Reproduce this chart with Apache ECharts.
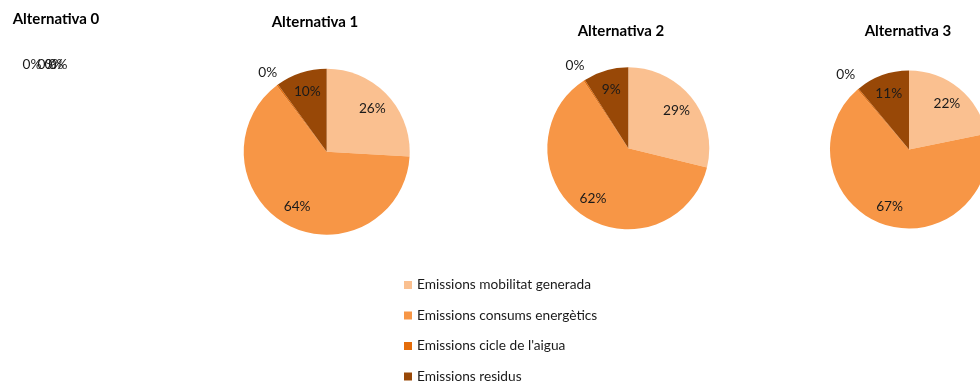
<!DOCTYPE html>
<html>
<head>
<meta charset="utf-8">
<script src="https://cdn.jsdelivr.net/npm/echarts@6/dist/echarts.min.js"></script>
<style>
  html, body { margin: 0; padding: 0; background: #fff; }
  #chart { width: 980px; height: 382px; }
</style>
</head>
<body>
<div id="chart"></div>
<script>
// Emission shares per alternative (percent of total)
const categories = [
  'Emissions mobilitat generada',
  'Emissions consums energètics',
  "Emissions cicle de l'aigua",
  'Emissions residus'
];
const alt0 = [0, 0, 0, 0];
const alt1 = [25.9, 63.8, 0.3, 10.0];
const alt2 = [28.8, 61.9, 0.3, 9.0];
const alt3 = [21.8, 66.9, 0.3, 11.0];
const titles = ['Alternativa 0', 'Alternativa 1', 'Alternativa 2', 'Alternativa 3'];
const colors = ['#FAC090', '#F79646', '#E46C0A', '#984807'];

const FONT = 'Lato, "Open Sans", sans-serif';
const labelStyle = { color: '#1a1a1a', fontSize: 13.7, fontFamily: FONT };

// Layout of each pie: centre and radius in pixels
const pies = [
  { values: alt1, cx: 326.7, cy: 151.7, r: 83, outer: 96 },
  { values: alt2, cx: 628.3, cy: 148.3, r: 81, outer: 95 },
  { values: alt3, cx: 909, cy: 149.5, r: 79, outer: 95 }
];
const titlePos = [[56, 19], [315, 22], [621, 31], [908, 31]];

function toData(values) {
  return values.map((v, i) => ({ name: categories[i], value: v }));
}

const common = {
  type: 'pie', startAngle: 90, clockwise: true, animation: false,
  percentPrecision: 0, emphasis: { disabled: true },
  labelLayout: { hideOverlap: false }
};

const series = [];
pies.forEach(p => {
  // the visible pie
  series.push(Object.assign({}, common, {
    center: [p.cx, p.cy], radius: [0, p.r],
    data: toData(p.values),
    itemStyle: { borderWidth: 0 },
    label: { show: false }, labelLine: { show: false }
  }));
  // transparent ring carrying the inner percentage labels
  series.push(Object.assign({}, common, {
    center: [p.cx, p.cy], radius: [p.r * 0.44, p.r], silent: true,
    legendHoverLink: false,
    data: toData(p.values).map((d, i) => Object.assign(d, {
      label: { show: i !== 2 }
    })),
    itemStyle: { color: 'rgba(0,0,0,0)', borderWidth: 0 },
    label: Object.assign({ position: 'inside', formatter: '{d}%' }, labelStyle),
    labelLine: { show: false }
  }));
  // transparent ring outside the pie carrying the label of the thin slice
  series.push(Object.assign({}, common, {
    center: [p.cx, p.cy], radius: [p.r, 2 * p.outer - p.r], silent: true,
    legendHoverLink: false,
    data: toData(p.values).map((d, i) => Object.assign(d, {
      label: { show: i === 2 }
    })),
    itemStyle: { color: 'rgba(0,0,0,0)', borderWidth: 0 },
    label: Object.assign({ position: 'inside', formatter: '{d}%' }, labelStyle),
    labelLine: { show: false }
  }));
});

// Alternativa 0 has no emissions: only its stacked zero labels remain
const zeroOffsets = [[-15, 0], [0, 0], [7, 0], [11, 0]];
series.push(Object.assign({}, common, {
  center: [47, 68], radius: [0, 1],
  stillShowZeroSum: false, silent: true, legendHoverLink: false,
  data: toData(alt0).map((d, i) => Object.assign(d, {
    label: { offset: zeroOffsets[i] }
  })),
  itemStyle: { color: 'rgba(0,0,0,0)' },
  label: Object.assign({ position: 'inside', formatter: '{d}%' }, labelStyle),
  labelLine: { show: false }
}));

const option = {
  backgroundColor: '#ffffff',
  color: colors,
  animation: false,
  graphic: titles.map((t, i) => ({
    type: 'text', x: titlePos[i][0], y: titlePos[i][1], silent: true,
    style: {
      text: t, align: 'center', verticalAlign: 'middle',
      font: 'bold 15px ' + FONT, fill: '#000'
    }
  })),
  legend: {
    orient: 'vertical', left: 404, top: 278, height: 120, padding: 0,
    data: categories,
    icon: 'rect', itemWidth: 8, itemHeight: 8, itemGap: 16.5,
    selectedMode: false,
    textStyle: { color: '#1a1a1a', fontSize: 13.7, fontFamily: FONT, padding: [0, 0, 0, 0] }
  },
  series: series
};

const chart = echarts.init(document.getElementById('chart'), null, { renderer: 'canvas' });
chart.setOption(option);
</script>
</body>
</html>
